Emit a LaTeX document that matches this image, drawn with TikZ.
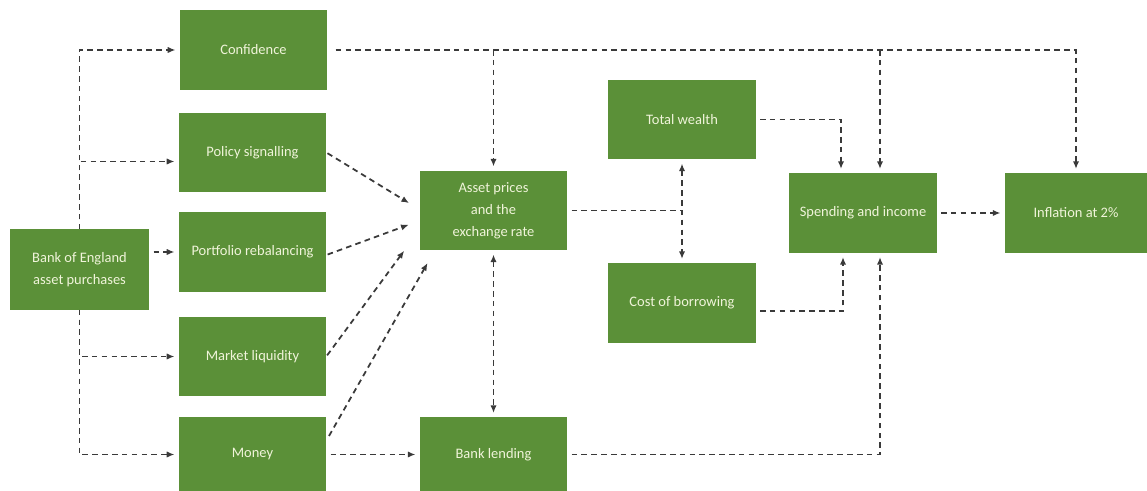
\documentclass[tikz,border=0pt]{standalone}
\usepackage{fontspec}
\setmainfont{Carlito}
\usetikzlibrary{arrows.meta,calc,positioning}
\definecolor{boxgreen}{HTML}{5B9038}
\definecolor{boxtext}{HTML}{F0F4DA}
\definecolor{linkgray}{HTML}{3A3A3A}

\begin{document}
\begin{tikzpicture}[x=0.025cm,y=-0.025cm,>={Latex[length=5.5pt,width=4.5pt]},
 box/.style={fill=boxgreen,text=boxtext,align=center,inner sep=2pt,
  minimum width=3.675cm,minimum height=1.975cm,
  font=\fontsize{10.3}{15.5}\selectfont},
 link/.style={->,linkgray,line width=1.25pt,dash pattern=on 4pt off 3pt,
  shorten >=3pt,shorten <=3pt}]
\useasboundingbox (0,0) rectangle (1147,491);
% boxes
\node[box,minimum width=3.475cm,minimum height=2cm] (boe) at (79.5,269.5) {Bank of England\\asset purchases};
\node[box] (conf) at (253.5,50) {Confidence};
\node[box] (pol) at (252.5,152.5) {Policy signalling};
\node[box] (port) at (252.5,252) {Portfolio rebalancing};
\node[box] (liq) at (252.5,356.5) {Market liquidity};
\node[box,minimum height=1.85cm] (money) at (252.5,454.5) {Money};
\node[box] (asset) at (493.5,210.5) {Asset prices\\and the\\exchange rate};
\node[box,minimum height=1.85cm] (bank) at (493.5,454.5) {Bank lending};
\node[box] (wealth) at (682,119.5) {Total wealth};
\node[box] (cost) at (682,303) {Cost of borrowing};
\node[box] (spend) at (863,213) {Spending and income};
\node[box,minimum width=3.55cm] (infl) at (1076,213) {Inflation at 2\%};
% helper points
\coordinate (spendTL) at ($(spend.north)+(-22,0)$);
\coordinate (spendTR) at ($(spend.north)+(17,0)$);
\coordinate (spendBL) at ($(spend.south)+(-20,0)$);
\coordinate (spendBR) at ($(spend.south)+(17,0)$);
\coordinate (fork) at (asset.east -| wealth.south);
% from the Bank
\draw[link,shorten <=0pt] (boe.north) |- (conf.west);
\draw[link,shorten <=0pt] (boe.north) |- ($(pol.west)+(0,9)$);
\draw[link] (boe.east |- port.west) -- (port.west);
\draw[link,shorten <=0pt] (boe.south) |- (liq.west);
\draw[link,shorten <=0pt] (boe.south) |- (money.west);
% confidence
\draw[link,shorten <=6pt] (conf.east) -| (infl.north);
\draw[link,shorten <=0pt] (conf.east -| asset.north) -- (asset.north);
\draw[link,shorten <=0pt] (conf.east -| spendTR) -- (spendTR);
% into asset prices
\draw[link,shorten <=1pt] (pol.east) -- ($(asset.south west)+(-7,-45)$);
\draw[link,shorten <=1pt] ($(port.east)+(0,3)$) -- ($(asset.south west)+(-7,-27)$);
\draw[link,shorten <=1pt] (liq.east) -- ($(asset.south west)+(-13,-3)$);
\draw[link,shorten <=1pt] ($(money.north east)+(2,20)$) -- ($(asset.south west)+(10,9)$);
\draw[link] (money.east) -- (bank.west);
\draw[link,<->] (asset.south) -- (bank.north);
% wealth and borrowing
\draw[link,-,shorten >=0pt] (asset.east) -- (fork);
\draw[link,<->] (wealth.south) -- (cost.north);
\draw[link] (wealth.east) -| (spendTL);
\draw[link] ($(cost.east)+(0,8)$) -| (spendBL);
\draw[link] (bank.east) -| (spendBR);
\draw[link] (spend.east) -- (infl.west);
\end{tikzpicture}
\end{document}
